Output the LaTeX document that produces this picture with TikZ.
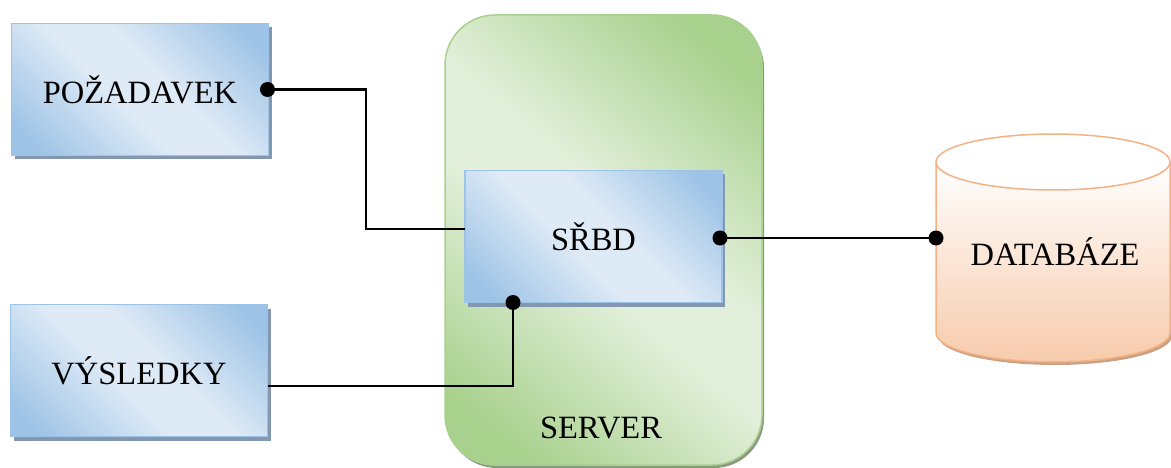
\documentclass[tikz,border=0pt]{standalone}
\usepackage{fontspec}
\setmainfont{Liberation Serif}
\usetikzlibrary{shadows,calc}

\definecolor{bluedark}{HTML}{9DC3E6}
\definecolor{bluelight}{HTML}{DEEAF6}
\definecolor{blueshadow}{HTML}{8497B0}
\definecolor{greendark}{HTML}{A9D18E}
\definecolor{greenlight}{HTML}{E2EFDA}
\definecolor{greenshadow}{HTML}{8A9A80}
\definecolor{dbedge}{HTML}{F4B183}
\definecolor{dbfill}{HTML}{F7CBAC}
\definecolor{dbshadow}{HTML}{C9A286}

% soft diagonal gradients with a wide light band in the middle
\pgfdeclareverticalshading{bluesheen}{100bp}{%
  color(0bp)=(bluedark); color(20bp)=(bluedark); color(44bp)=(bluelight);
  color(56bp)=(bluelight); color(80bp)=(bluedark); color(100bp)=(bluedark)}
\pgfdeclareverticalshading{greensheen}{100bp}{%
  color(0bp)=(greendark); color(22bp)=(greendark); color(45bp)=(greenlight);
  color(55bp)=(greenlight); color(78bp)=(greendark); color(100bp)=(greendark)}

\begin{document}
\begin{tikzpicture}[x=1pt,y=-1pt,
  every node/.style={font=\fontsize{32.5}{38}\selectfont},
  bluebox/.style={draw=bluedark, line width=1.5pt,
    shading=bluesheen, shading angle=-45,
    minimum width=257pt, minimum height=132pt,
    inner sep=0pt, outer sep=0pt,
    drop shadow={shadow xshift=3pt, shadow yshift=-4pt, fill=blueshadow, opacity=1}},
  conn/.style={line width=2.4pt, black},
  pin/.style={fill=black}]

\useasboundingbox (0,0) rectangle (1171,468);

% server enclosure
\fill[greenshadow, rounded corners=50pt] (447,18) rectangle (764,468);
\path[draw=greendark, line width=1.5pt, rounded corners=50pt,
  shading=greensheen, shading angle=-40] (445,15) rectangle (762,465);
\node (server) at (601,428) {SERVER};

% client boxes and the DBMS box
\node[bluebox] (req) at (140,89.5) {POŽADAVEK};
\node[bluebox] (res) at (139,370.5) {VÝSLEDKY};
\node[bluebox] (srbd) at (593.5,236.5) {SŘBD};

% database cylinder
\path[fill=dbshadow] (938,166) -- (938,336)
  arc[start angle=180, end angle=360, x radius=117pt, y radius=29pt]
  -- (1172,166) -- cycle;
\path[top color=white, bottom color=dbfill] (936,162) -- (936,333)
  arc[start angle=180, end angle=360, x radius=117pt, y radius=29pt]
  -- (1170,162) -- cycle;
\draw[dbedge, line width=1.5pt] (936,162) -- (936,333)
  arc[start angle=180, end angle=360, x radius=117pt, y radius=29pt]
  -- (1170,162);
\draw[dbedge, line width=1.5pt, fill=white] (1053,162) ellipse[x radius=117pt, y radius=28pt];
\node (db) at (1055,252) {DATABÁZE};
\coordinate (dbin) at (936,238);

% connector end points
\coordinate (reqout) at ([xshift=-1pt]req.east);
\coordinate (srbdin) at ([yshift=7.5pt]srbd.west);
\coordinate (resout) at ([yshift=-15.5pt]res.east);
\coordinate (srbdbot) at ([xshift=-80.5pt]srbd.south);
\coordinate (srbdout) at ([xshift=-2pt,yshift=-1.5pt]srbd.east);

% connectors
\draw[conn] (reqout) -| ($(reqout)!0.5!(srbdin)$) |- (srbdin);
\draw[conn] (resout) -| (srbdbot);
\draw[conn] (srbdout) -- (dbin);

% connection dots
\foreach \p in {reqout, srbdbot, srbdout, dbin}
  \fill[pin] (\p) circle[radius=7.5pt];
\end{tikzpicture}
\end{document}
